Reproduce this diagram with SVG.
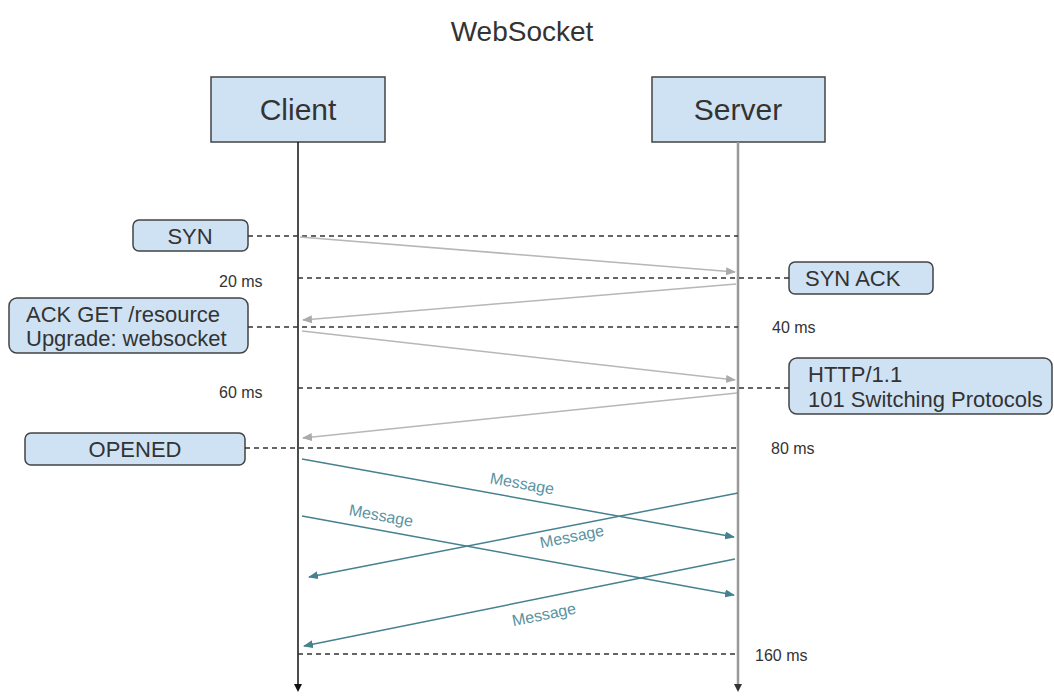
<svg xmlns="http://www.w3.org/2000/svg" width="1054" height="696" viewBox="0 0 1054 696">
<style>
text{font-family:"Liberation Sans",Arial,sans-serif;fill:#333}
.title{font-size:28px;text-anchor:middle}
.actor rect{fill:#cfe2f3;stroke:#434343;stroke-width:1.5}
.actor text{font-size:30px;text-anchor:middle}
.note rect{fill:#cfe2f3;stroke:#434343;stroke-width:1.5}
.note text{font-size:22px}
.ms{font-size:16px}
.dash{stroke:#333;stroke-width:1.3;stroke-dasharray:5 4;fill:none}
.gray{stroke:#b7b7b7;stroke-width:1.6;fill:none;marker-end:url(#ag)}
.teal{stroke:#45818e;stroke-width:1.5;fill:none;marker-end:url(#at)}
.msg{font-size:16px;fill:#5a93a0;text-anchor:middle}
</style>
<defs>
<marker id="ag" markerUnits="userSpaceOnUse" markerWidth="10" markerHeight="8" refX="9" refY="4" orient="auto"><path d="M0,0 L10,4 L0,8 z" fill="#aaa"/></marker>
<marker id="at" markerUnits="userSpaceOnUse" markerWidth="10" markerHeight="8" refX="9" refY="4" orient="auto"><path d="M0,0 L10,4 L0,8 z" fill="#45818e"/></marker>
</defs>
<text class="title" x="522" y="41">WebSocket</text>
<g id="client" class="actor"><rect x="211" y="77" width="174" height="65"/><text x="298" y="120">Client</text></g>
<g id="server" class="actor"><rect x="652" y="77" width="173" height="65"/><text x="738" y="120">Server</text></g>
<g id="lifelines">
<line x1="298" y1="142" x2="298" y2="686" stroke="#111" stroke-width="1.5"/>
<path d="M294,684 L302,684 L298,692 z" fill="#111"/>
<line x1="738" y1="142" x2="738" y2="686" stroke="#999" stroke-width="2.5"/>
<path d="M734,684 L742,684 L738,692 z" fill="#333"/>
</g>
<g id="syn" class="note"><rect x="133" y="220" width="115" height="31" rx="6"/><text x="190" y="244" text-anchor="middle">SYN</text></g>
<g id="synack" class="note"><rect x="789" y="262" width="144" height="32" rx="6"/><text x="805" y="286">SYN ACK</text></g>
<g id="ackget" class="note"><rect x="9" y="298" width="239" height="55" rx="8"/><text x="26" y="322">ACK GET /resource</text><text x="26" y="346">Upgrade: websocket</text></g>
<g id="http" class="note"><rect x="789" y="358" width="263" height="56" rx="8"/><text x="808" y="382">HTTP/1.1</text><text x="808" y="407">101 Switching Protocols</text></g>
<g id="opened" class="note"><rect x="25" y="433" width="220" height="32" rx="6"/><text x="135" y="457" text-anchor="middle">OPENED</text></g>
<g id="times">
<text class="ms" x="219" y="287">20 ms</text>
<text class="ms" x="772" y="333">40 ms</text>
<text class="ms" x="219" y="398">60 ms</text>
<text class="ms" x="771" y="454">80 ms</text>
<text class="ms" x="755" y="661">160 ms</text>
</g>
<g id="connectors">
<line class="dash" x1="248" y1="236" x2="738" y2="236"/>
<line class="dash" x1="298" y1="278" x2="789" y2="278"/>
<line class="dash" x1="248" y1="327" x2="738" y2="327"/>
<line class="dash" x1="298" y1="388" x2="789" y2="388"/>
<line class="dash" x1="245" y1="448" x2="738" y2="448"/>
<line class="dash" x1="298" y1="654" x2="738" y2="654"/>
<line class="gray" x1="300" y1="237" x2="735" y2="272"/>
<line class="gray" x1="736" y1="284" x2="303" y2="320"/>
<line class="gray" x1="302" y1="331" x2="735" y2="380"/>
<line class="gray" x1="737" y1="393" x2="303" y2="438"/>
<line class="teal" x1="302" y1="459" x2="734" y2="537"/>
<line class="teal" x1="738" y1="493" x2="309" y2="577"/>
<line class="teal" x1="302" y1="516" x2="734" y2="595"/>
<line class="teal" x1="735" y1="559" x2="304" y2="646"/>
<text class="msg" transform="translate(522,484) rotate(10.2)" y="5">Message</text>
<text class="msg" transform="translate(572,537) rotate(-11.1)" y="5">Message</text>
<text class="msg" transform="translate(381,516) rotate(10.4)" y="5">Message</text>
<text class="msg" transform="translate(544,615) rotate(-11.4)" y="5">Message</text>
</g>
</svg>
